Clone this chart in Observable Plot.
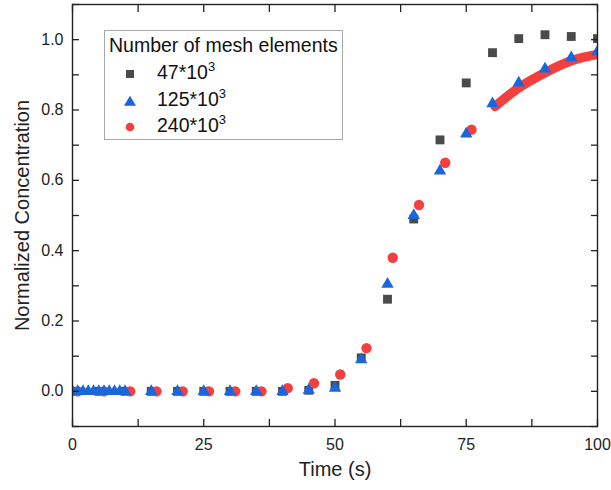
<!DOCTYPE html>
<html>
<head>
<meta charset="utf-8">
<script src="https://cdn.jsdelivr.net/npm/d3@7"></script>
<script src="https://cdn.jsdelivr.net/npm/@observablehq/plot@0.6"></script>
<style>
  body { margin: 0; background: #fff; font-family: "Liberation Sans", Arial, sans-serif; }
  #chart { position: relative; width: 611px; height: 490px; }
  .legend { position: absolute; left: 104px; top: 30px; width: 239px; height: 110px;
            border: 1px solid #a6a6a6; background: #fff; box-sizing: border-box; color: #111; }
  .legend .title { position: absolute; left: 4px; top: 3px; font-size: 19.5px; white-space: nowrap; }
  .legend .row { position: absolute; left: 0; height: 26px; width: 100%; }
  .legend .row svg { position: absolute; left: 17px; top: 6px; }
  .legend .row span { position: absolute; left: 52px; top: 1px; font-size: 19.5px; white-space: nowrap; }
  .legend sup { font-size: 13px; vertical-align: 8px; line-height: 0; }
</style>
</head>
<body>
<div id="chart"></div>
<script>
// Time axis samples and normalized concentration for each mesh size
const coarseTime = [0, 5, 10, 15, 20, 25, 30, 35, 40, 45, 50, 55, 60, 65, 70, 75, 80, 85, 90, 95, 100];
const coarseConc = [0, 0, 0, 0, 0, 0, 0, 0, 0, 0.003, 0.017, 0.095, 0.262, 0.49, 0.715, 0.877, 0.963, 1.003, 1.014, 1.009, 1.003];

const mediumTime = [0, 1, 2, 3, 4, 5, 6, 7, 8, 9, 10, 15, 20, 25, 30, 35, 40, 45, 50, 55, 60, 65, 70, 75, 80, 85, 90, 95, 100];
const mediumConc = [0, 0, 0, 0, 0, 0, 0, 0, 0, 0, 0, 0, 0, 0, 0, 0, 0, 0.003, 0.009, 0.09, 0.305, 0.5, 0.627, 0.732, 0.818, 0.877, 0.917, 0.949, 0.966];

const fineTime = [1, 6, 11, 16, 21, 26, 31, 36, 41, 46, 51, 56, 61, 66, 71, 76];
const fineConc = [0, 0, 0, 0, 0, 0, 0, 0, 0.009, 0.023, 0.048, 0.123, 0.38, 0.53, 0.65, 0.744];

// densely sampled tail of the finest mesh, drawn as a thick trace
const fineTailTime = [80.5, 85, 90, 95, 100];
const fineTailConc = [0.81, 0.863, 0.906, 0.94, 0.958];

const seriesNames = ["47*10", "125*10", "240*10"];
const seriesColors = ["#4a4a4a", "#1a66dc", "#f43f3f"];

const xTicks = [0, 12.5, 25, 37.5, 50, 62.5, 75, 87.5, 100];
const xLabels = [0, 25, 50, 75, 100];
const yTicks = [-0.1, 0, 0.1, 0.2, 0.3, 0.4, 0.5, 0.6, 0.7, 0.8, 0.9, 1.0, 1.1];
const yLabels = [0, 0.2, 0.4, 0.6, 0.8, 1.0];

const zip = (xs, ys) => xs.map((x, i) => ({x, y: ys[i]}));
const coarse = zip(coarseTime, coarseConc);
const medium = zip(mediumTime, mediumConc);
const fine = zip(fineTime, fineConc);
const fineTail = zip(fineTailTime, fineTailConc);

const inkColor = "#222";
const blank = () => "";
const tickLen = 7;
// tick marks shifted back across the frame so they point inward
const tickStyle = {tickSize: tickLen, tickFormat: blank, label: null, stroke: inkColor, strokeWidth: 1.3};

const chart = Plot.plot({
  width: 611,
  height: 490,
  marginLeft: 72,
  marginRight: 14,
  marginTop: 4,
  marginBottom: 64,
  style: {fontFamily: "'Liberation Sans', Arial, sans-serif", fontSize: "16px", color: inkColor, background: "#fff"},
  x: {domain: [0, 100]},
  y: {domain: [-0.1, 1.1]},
  marks: [
    // data
    Plot.dot(coarse, {x: "x", y: "y", symbol: "square", r: 5, fill: seriesColors[0], clip: true}),
    Plot.dot(fine, {x: "x", y: "y", symbol: "circle", r: 5.2, fill: seriesColors[2], clip: true}),
    Plot.line(fineTail, {x: "x", y: "y", stroke: seriesColors[2], strokeWidth: 9.5, strokeLinecap: "round", curve: "natural", clip: true}),
    Plot.dot(medium, {x: "x", y: "y", symbol: "triangle", r: 4.6, fill: seriesColors[1], clip: true}),
    // frame and inward ticks on all four sides
    Plot.frame({stroke: inkColor, strokeWidth: 1.4}),
    Plot.axisX(xTicks, {anchor: "bottom", dy: -tickLen, ...tickStyle}),
    Plot.axisX(xTicks, {anchor: "top", dy: tickLen, ...tickStyle}),
    Plot.axisY(yTicks, {anchor: "left", dx: tickLen, ...tickStyle}),
    Plot.axisY(yTicks, {anchor: "right", dx: -tickLen, ...tickStyle}),
    // tick labels
    Plot.axisX(xLabels, {anchor: "bottom", tickSize: 0, tickPadding: 12, label: null, fontSize: 16, fill: inkColor}),
    Plot.axisY(yLabels, {anchor: "left", tickSize: 0, tickPadding: 9, tickFormat: d3.format(".1f"), label: null, fontSize: 16, fill: inkColor}),
    // axis titles
    Plot.text(["Time (s)"], {text: d => d, frameAnchor: "bottom", dy: 49, fontSize: 20, fill: inkColor}),
    Plot.text(["Normalized Concentration"], {text: d => d, frameAnchor: "left", dx: -50, rotate: -90, textAnchor: "middle", fontSize: 20, fill: inkColor})
  ]
});

const root = document.getElementById("chart");
root.appendChild(chart);

// legend box
const legend = document.createElement("div");
legend.className = "legend";
legend.innerHTML = `<div class="title">Number of mesh elements</div>`;
const symbolSvg = [
  c => `<svg width="16" height="16" viewBox="-8 -8 16 16"><rect x="-4" y="-4" width="8" height="8" fill="${c}"/></svg>`,
  c => `<svg width="16" height="16" viewBox="-8 -8 16 16"><path d="M0,-5.2L6,4.8L-6,4.8Z" fill="${c}"/></svg>`,
  c => `<svg width="16" height="16" viewBox="-8 -8 16 16"><circle r="4.3" fill="${c}"/></svg>`
];
seriesNames.forEach((name, i) => {
  const row = document.createElement("div");
  row.className = "row";
  row.style.top = (29 + i * 26.5) + "px";
  row.innerHTML = `${symbolSvg[i](seriesColors[i])}<span>${name}<sup>3</sup></span>`;
  legend.appendChild(row);
});
root.appendChild(legend);
</script>
</body>
</html>
